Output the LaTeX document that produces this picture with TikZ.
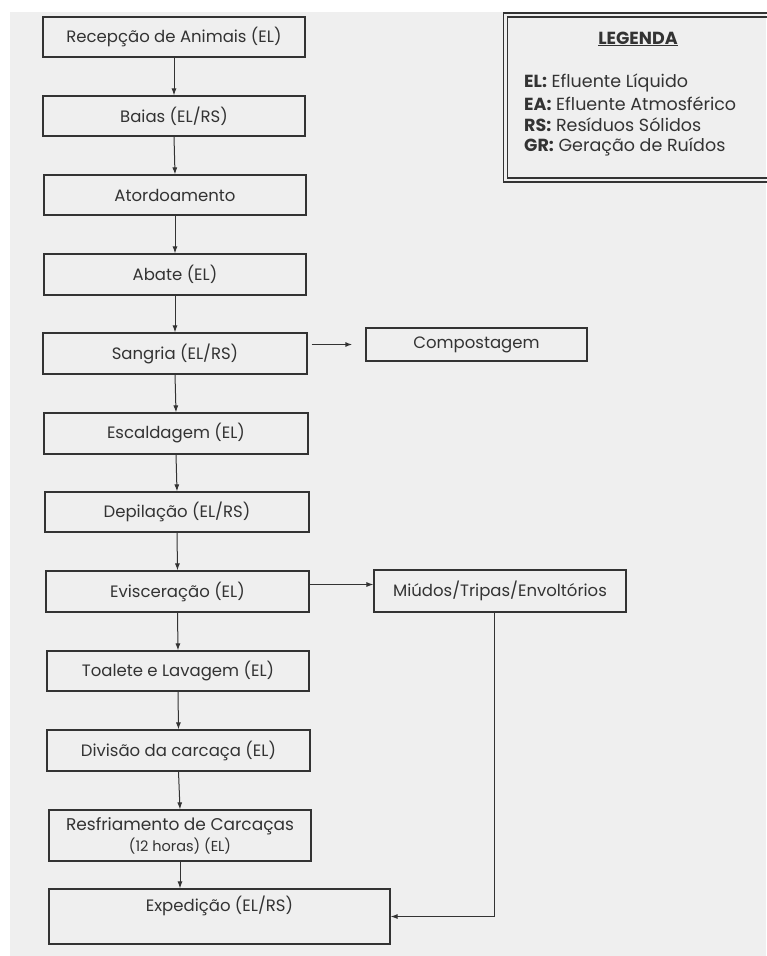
\documentclass[tikz,border=0pt]{standalone}
\usepackage{fontspec}
\setmainfont{Poppins}
\usetikzlibrary{arrows.meta,calc}
\definecolor{ink}{HTML}{333333}
\definecolor{paper}{HTML}{EFEFEF}
\tikzset{
  box/.style={draw=ink, line width=1.2pt, fill=none, rectangle, inner sep=0pt,
    text=ink, font=\fontsize{16.5}{20}\selectfont, align=center},
  arr/.style={draw=ink, line width=1pt, -{Latex[length=7pt,width=5pt]}},
  leg/.style={text=ink, font=\fontsize{17.5}{20}\selectfont, anchor=west, inner sep=0pt}
}
\begin{document}
\begin{tikzpicture}[x=1pt,y=-1pt]
\useasboundingbox (0,0) rectangle (766,956);
\fill[white] (0,0) rectangle (766,956);
\fill[paper] (10,12) rectangle (766,956);

% main column
\node[box, minimum width=262pt, minimum height=40pt] (rec) at (174,37) {Recepção de Animais (EL)};
\node[box, minimum width=262pt, minimum height=40pt] (baias) at (174,116) {Baias (EL/RS)};
\node[box, minimum width=262pt, minimum height=40pt] (ator) at (175,195) {Atordoamento};
\node[box, minimum width=262pt, minimum height=41pt] (abate) at (175,274.5) {Abate (EL)};
\node[box, minimum width=264pt, minimum height=41pt] (sang) at (175,353.5) {Sangria (EL/RS)};
\node[box, minimum width=264pt, minimum height=41pt] (esc) at (176,433.5) {Escaldagem (EL)};
\node[box, minimum width=264pt, minimum height=40pt] (dep) at (177,512) {Depilação (EL/RS)};
\node[box, minimum width=263pt, minimum height=41pt] (evi) at (177.5,591.5) {Evisceração (EL)};
\node[box, minimum width=262pt, minimum height=40pt] (toa) at (178,671) {Toalete e Lavagem (EL)};
\node[box, minimum width=263pt, minimum height=41pt] (div) at (178.5,750.5) {Divisão da carcaça (EL)};
\node[box, minimum width=262pt, minimum height=51pt, font=\fontsize{17}{21}\selectfont] (res) at (180,835.5) {Resfriamento de Carcaças\\{\fontsize{14.5}{15}\selectfont(12 horas) (EL)}};
\node[box, minimum width=341pt, minimum height=55pt] (exp) at (219.5,916.5) {};
\node[text=ink, font=\fontsize{16.5}{20}\selectfont, inner sep=0pt] (expt) at (219.5,906) {Expedição (EL/RS)};

% side boxes
\node[box, minimum width=221pt, minimum height=33pt] (comp) at (476.5,344.5) {Compostagem};
\node[box, minimum width=252pt, minimum height=42pt] (miu) at (500,591) {Miúdos/Tripas/Envoltórios};

% connectors
\draw[arr] (rec.south) -- (baias.north);
\draw[arr] (baias.south) -- (ator.north);
\draw[arr] (ator.south) -- (abate.north);
\draw[arr] (abate.south) -- (sang.north);
\draw[arr] (sang.south) -- (esc.north);
\draw[arr] (esc.south) -- (dep.north);
\draw[arr] (dep.south) -- (evi.north);
\draw[arr] (evi.south) -- (toa.north);
\draw[arr] (toa.south) -- (div.north);
\draw[arr] (div.south) -- (res.north);
\draw[arr] (res.south) -- (res.south |- exp.north);

\coordinate (sa) at (sang.east |- comp.west);
\draw[arr, line width=1.4pt] ([xshift=4pt]sa) -- ([xshift=-13pt]comp.west);
\draw[arr] ([yshift=7pt]evi.east) -- ([yshift=7pt]evi.east -| miu.west);
\coordinate (mc) at ([xshift=-6pt]miu.south);
\draw[arr] (mc) |- (exp.east);

% legend
\draw[ink, line width=1.3pt] (503.5,13) rectangle (775,182);
\draw[ink, line width=1.2pt] (507.5,17) rectangle (775,178);
\node[text=ink, font=\bfseries\fontsize{17.5}{20}\selectfont, inner sep=0pt] (lt) at (638,39) {\underline{LEGENDA}};
\node[leg] (l1) at (524,83) {\textbf{EL:} Efluente Líquido};
\node[leg] (l2) at (524,104) {\textbf{EA:} Efluente Atmosférico};
\node[leg] (l3) at (524,125) {\textbf{RS:} Resíduos Sólidos};
\node[leg] (l4) at (524,147) {\textbf{GR:} Geração de Ruídos};
\end{tikzpicture}
\end{document}
